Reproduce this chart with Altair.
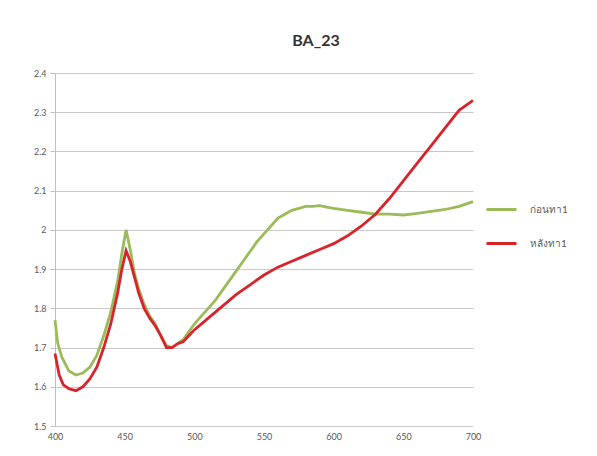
import altair as alt
import pandas as pd

wl_before = [400, 402, 405, 410, 415, 420, 425, 430, 435, 440, 445, 448, 451, 454, 457, 460, 464, 468, 472, 476, 480, 484, 488, 492, 496, 500, 505, 510, 515, 520, 525, 530, 535, 540, 545, 550, 555, 560, 565, 570, 575, 580, 585, 590, 595, 600, 610, 620, 630, 640, 650, 660, 670, 680, 690, 700]
val_before = [1.77, 1.71, 1.675, 1.64, 1.63, 1.635, 1.65, 1.68, 1.73, 1.79, 1.87, 1.94, 2.00, 1.95, 1.89, 1.85, 1.81, 1.78, 1.76, 1.73, 1.705, 1.70, 1.71, 1.72, 1.74, 1.76, 1.78, 1.80, 1.82, 1.845, 1.87, 1.895, 1.92, 1.945, 1.97, 1.99, 2.01, 2.03, 2.04, 2.05, 2.055, 2.06, 2.06, 2.062, 2.058, 2.055, 2.05, 2.045, 2.04, 2.04, 2.038, 2.042, 2.047, 2.052, 2.06, 2.072]

wl_after = [400, 403, 406, 410, 415, 420, 425, 430, 435, 440, 445, 448, 451, 454, 457, 460, 464, 468, 472, 476, 480, 484, 488, 492, 496, 500, 510, 520, 530, 540, 550, 560, 570, 580, 590, 600, 610, 620, 630, 640, 650, 660, 670, 680, 690, 700]
val_after = [1.685, 1.63, 1.605, 1.595, 1.59, 1.60, 1.62, 1.65, 1.70, 1.76, 1.84, 1.90, 1.947, 1.92, 1.88, 1.84, 1.80, 1.775, 1.755, 1.73, 1.70, 1.70, 1.71, 1.715, 1.73, 1.745, 1.775, 1.805, 1.835, 1.86, 1.885, 1.905, 1.92, 1.935, 1.95, 1.965, 1.985, 2.01, 2.04, 2.08, 2.125, 2.17, 2.215, 2.26, 2.305, 2.33]

series_names = ["ก่อนทา1", "หลังทา1"]
series_colors = ["#9bbb59", "#d8232a"]
x_ticks = [400, 450, 500, 550, 600, 650, 700]
y_ticks = [1.5, 1.6, 1.7, 1.8, 1.9, 2.0, 2.1, 2.2, 2.3, 2.4]

df = pd.concat([
    pd.DataFrame({"wl": wl_before, "v": val_before, "s": series_names[0], "o": 0}),
    pd.DataFrame({"wl": wl_after, "v": val_after, "s": series_names[1], "o": 1}),
])

font = "Lato"

chart = alt.Chart(df).mark_line(strokeWidth=2.8).encode(
    x=alt.X("wl:Q", scale=alt.Scale(domain=[400, 700], nice=False),
            axis=alt.Axis(values=x_ticks, title=None, grid=False, tickSize=0,
                          labelPadding=6, domain=False, labelFlush=False)),
    y=alt.Y("v:Q", scale=alt.Scale(domain=[1.5, 2.4], nice=False, zero=False),
            axis=alt.Axis(values=y_ticks, title=None, format=".1~f", grid=True,
                          tickSize=5, labelPadding=4, domainColor="#bfbfbf",
                          tickColor="#bfbfbf", gridColor="#c9c9c9")),
    color=alt.Color("s:N", scale=alt.Scale(domain=series_names, range=series_colors),
                    legend=alt.Legend(title=None, orient="none", legendX=430, legendY=120,
                                      symbolType="stroke", symbolStrokeWidth=3,
                                      symbolSize=900, labelFontSize=10, labelColor="#595959",
                                      labelFont=font, rowPadding=11, labelOffset=12)),
    order="o:Q",
    detail="s:N",
).properties(
    width=418, height=353,
    title=alt.TitleParams("BA_23", fontSize=16, font=font, fontWeight="bold",
                          color="#333333", anchor="middle", dx=52, offset=20),
    autosize=alt.AutoSizeParams(type="none"),
    padding={"left": 47, "top": 65, "right": 116, "bottom": 22},
).configure_axis(
    labelFont=font, labelFontSize=9, labelColor="#595959",
).configure_view(stroke=None)

chart.save("out.html", embed_options={"renderer": "svg", "actions": False})
